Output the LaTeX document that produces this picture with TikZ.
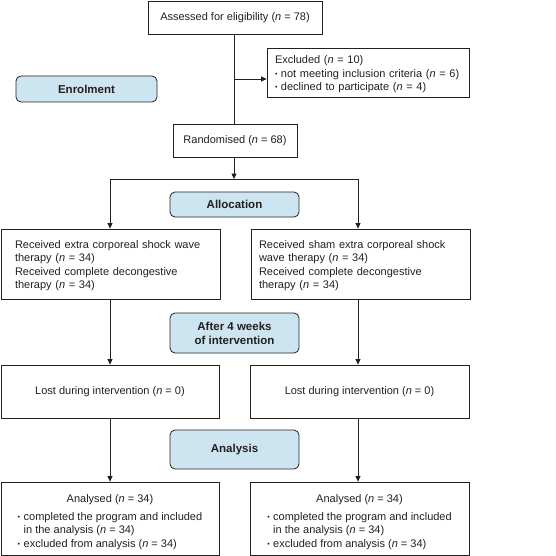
\documentclass[tikz,border=0pt]{standalone}
\usepackage{fontspec}
\setmainfont{Liberation Sans}
\usetikzlibrary{arrows.meta}
\definecolor{labelblue}{HTML}{CDE5F0}
\definecolor{ink}{HTML}{231F20}
\newcommand{\nn}{\textit{n}}
\newcommand{\bul}{\raisebox{0.15ex}{\scriptsize•}\hspace{3.5pt}}
\begin{document}
\begin{tikzpicture}[x=1pt,y=-1pt,
  box/.style={draw=ink,line width=0.8pt,rectangle,inner sep=0pt,font=\fontsize{11}{13.5}\selectfont,text=ink},
  lab/.style={draw=ink,line width=0.8pt,rectangle,rounded corners=5pt,fill=labelblue,inner sep=0pt,font=\fontsize{11.5}{15}\selectfont\bfseries,align=center,text=ink},
  conn/.style={draw=ink,line width=0.8pt},
  arr/.style={conn,-{Triangle[length=5.5pt,width=5pt]}}]
\path[use as bounding box] (0,0) rectangle (555,556);

\node[box,minimum width=174,minimum height=33] (assess) at (235,17.5) {Assessed for eligibility (\nn\ = 78)};
\node[box,minimum width=202,minimum height=49,text width=186,align=left] (excl) at (368,72.5)
  {\raisebox{-2pt}[\height][\depth]{\parbox{186pt}{Excluded (\nn\ = 10)\\ \bul not meeting inclusion criteria (\nn\ = 6)\\ \bul declined to participate (\nn\ = 4)}}};
\node[lab,minimum width=141,minimum height=26] (enrol) at (86.5,89) {Enrolment};
\node[box,minimum width=124,minimum height=33] (rand) at (235,140.5) {Randomised (\nn\ = 68)};

\node[lab,minimum width=129,minimum height=25] (alloc) at (234.5,204.5) {Allocation};
\node[box,minimum width=219,minimum height=70,text width=191,align=left] (tl) at (110.5,264)
  {\raisebox{-1.5pt}[\height][\depth]{\parbox{191pt}{Received extra corporeal shock wave\\ therapy (\nn\ = 34)\\ Received complete decongestive\\ therapy (\nn\ = 34)}}};
\node[box,minimum width=219,minimum height=70,text width=203,align=left] (tr) at (360.5,264)
  {\raisebox{-1.5pt}[\height][\depth]{\parbox{203pt}{Received sham extra corporeal shock\\ wave therapy (\nn\ = 34)\\ Received complete decongestive\\ therapy (\nn\ = 34)}}};

\node[lab,minimum width=129,minimum height=40] (after) at (234.5,333) {\raisebox{-1pt}[\height][\depth]{\begin{tabular}{@{}c@{}}After 4 weeks\\[-1pt] of intervention\end{tabular}}};
\node[box,minimum width=218,minimum height=53] (ll) at (110,391.5) {\raisebox{-1pt}{Lost during intervention (\nn\ = 0)}};
\node[box,minimum width=219,minimum height=53] (lr) at (359.5,391.5) {\raisebox{-1pt}{Lost during intervention (\nn\ = 0)}};

\node[lab,minimum width=129,minimum height=39] (analysis) at (234.5,449.5) {Analysis};
\node[box,minimum width=218,minimum height=73] (al) at (110,518.5)
  {\raisebox{-4pt}[\height][\depth]{\begin{tabular}{@{}l@{}}\multicolumn{1}{c}{Analysed (\nn\ = 34)}\\[4pt]
   \bul completed the program and included\\ \phantom{\bul}in the analysis (\nn\ = 34)\\ \bul excluded from analysis (\nn\ = 34)\end{tabular}}};
\node[box,minimum width=219,minimum height=73] (ar) at (359.5,518.5)
  {\raisebox{-4pt}[\height][\depth]{\begin{tabular}{@{}l@{}}\multicolumn{1}{c}{Analysed (\nn\ = 34)}\\[4pt]
   \bul completed the program and included\\ \phantom{\bul}in the analysis (\nn\ = 34)\\ \bul excluded from analysis (\nn\ = 34)\end{tabular}}};

\coordinate (ex) at (234,79);
\coordinate (mid) at (234,179);
\coordinate (bl) at (110,179);
\coordinate (br) at (358,179);

\draw[conn] (assess.south -| ex) -- (rand.north -| ex);
\draw[arr] (ex) -- (excl.west |- ex);
\draw[arr] (rand.south -| mid) -- (mid);
\draw[conn] (bl) -- (br);
\draw[arr] (bl) -- (tl.north -| bl);
\draw[arr] (br) -- (tr.north -| br);
\draw[arr] (tl.south -| bl) -- (ll.north -| bl);
\draw[arr] (tr.south -| br) -- (lr.north -| br);
\draw[arr] (ll.south -| bl) -- (al.north -| bl);
\draw[arr] (lr.south -| br) -- (ar.north -| br);
\end{tikzpicture}
\end{document}
